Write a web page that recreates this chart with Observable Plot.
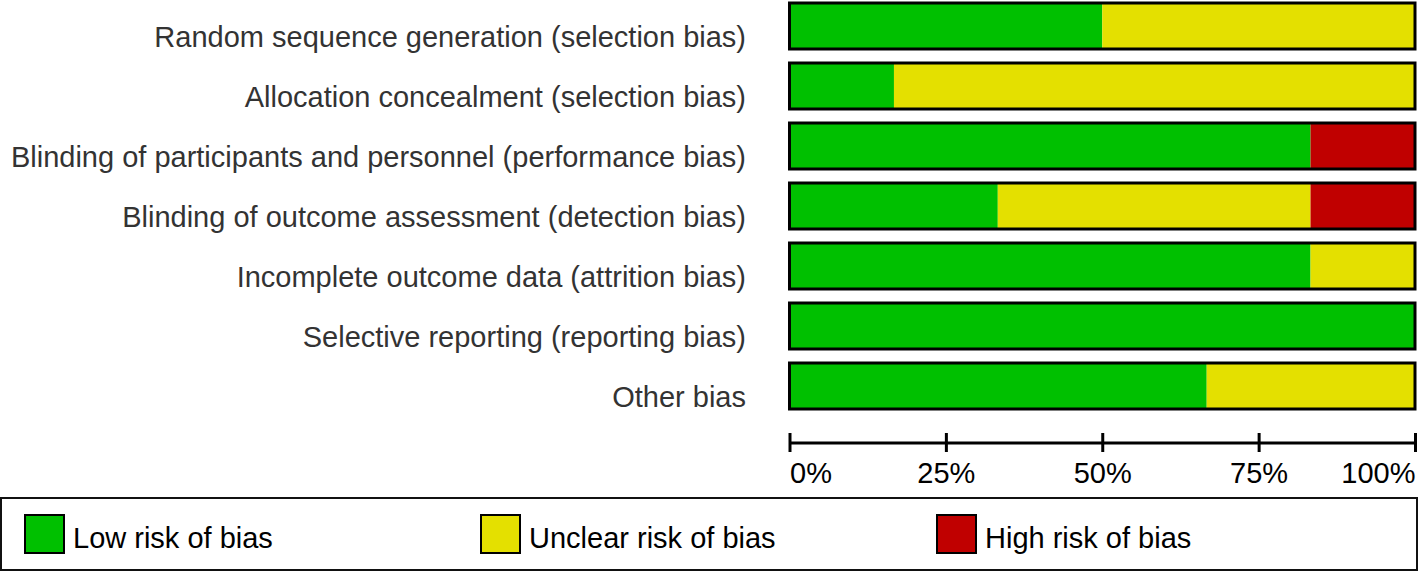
<!DOCTYPE html>
<html>
<head>
<meta charset="utf-8">
<script src="https://cdn.jsdelivr.net/npm/d3@7"></script>
<script src="https://cdn.jsdelivr.net/npm/@observablehq/plot@0.6"></script>
<style>
  html, body { margin: 0; padding: 0; background: #fff; }
  body { width: 1420px; height: 573px; overflow: hidden; font-family: "Liberation Sans", Arial, sans-serif; }
  #chart svg, #axis svg { display: block; }
  #legend {
    box-sizing: border-box;
    margin-top: 7px;
    width: 1418px;
    height: 74px;
    border: 2px solid #111;
    display: flex;
    align-items: center;
    padding-left: 22px;
  }
  .item { display: flex; align-items: center; width: 456px; font-size: 29px; color: #000; }
  .item span { position: relative; top: 4px; }
  .sw { box-sizing: border-box; width: 41px; height: 40px; border: 2px solid #000; margin-right: 8px; }
</style>
</head>
<body>
<div id="chart"></div>
<div id="axis"></div>
<div id="legend"></div>
<script>
const domains = [
  "Random sequence generation (selection bias)",
  "Allocation concealment (selection bias)",
  "Blinding of participants and personnel (performance bias)",
  "Blinding of outcome assessment (detection bias)",
  "Incomplete outcome data (attrition bias)",
  "Selective reporting (reporting bias)",
  "Other bias"
];
const lowRisk     = [50, 16.7, 83.3, 33.3, 83.3, 100, 66.7];
const unclearRisk = [50, 83.3, 0,    50,   16.7, 0,   33.3];
const highRisk    = [0,  0,    16.7, 16.7, 0,    0,   0];
const riskLabels = ["Low risk of bias", "Unclear risk of bias", "High risk of bias"];
const riskColors = ["#00c000", "#e4e000", "#c00000"];
const tickValues = [0, 25, 50, 75, 100];
const tickLabels = ["0%", "25%", "50%", "75%", "100%"];

const series = [lowRisk, unclearRisk, highRisk];
const table = [];
domains.forEach((d, i) => {
  series.forEach((s, j) => table.push({domain: d, risk: riskLabels[j], value: s[i]}));
});
const totals = domains.map((d, i) => ({domain: d, total: lowRisk[i] + unclearRisk[i] + highRisk[i]}));
const ticks = tickValues.map((v, i) => ({v, label: tickLabels[i]}));

const font = "'Liberation Sans', Arial, sans-serif";

const chart = Plot.plot({
  width: 1420,
  height: 415,
  marginLeft: 789.5,
  marginRight: 5,
  marginTop: 1,
  marginBottom: 5,
  style: {fontFamily: font, background: "#fff"},
  x: {domain: [0, 100], axis: null},
  y: {domain: domains, paddingInner: 0.24, paddingOuter: 0, axis: null},
  color: {domain: riskLabels, range: riskColors},
  marks: [
    Plot.barX(table, Plot.stackX({y: "domain", x: "value", fill: "risk", order: riskLabels})),
    Plot.barX(totals, {y: "domain", x1: 0, x2: "total", fill: "none", stroke: "#000", strokeWidth: 3}),
    Plot.axisY({label: null, tickSize: 0, tickPadding: 44, fontSize: 29, fill: "#333", textAnchor: "end", dy: 11})
  ]
});
document.getElementById("chart").appendChild(chart);

const axis = Plot.plot({
  width: 1420,
  height: 75,
  marginLeft: 789.5,
  marginRight: 5,
  marginTop: 18,
  marginBottom: 38,
  style: {fontFamily: font, background: "#fff"},
  x: {domain: [0, 100], axis: null},
  y: {domain: [-1, 1], axis: null},
  marks: [
    Plot.ruleY([0], {x1: 0, x2: 100, stroke: "#000", strokeWidth: 3}),
    Plot.tickX(tickValues, {x: d => d, stroke: "#000", strokeWidth: 3}),
    Plot.text(ticks.slice(0, 1), {x: "v", text: "label", frameAnchor: "bottom", lineAnchor: "top", dy: 10, textAnchor: "start", fontSize: 29, fill: "#000"}),
    Plot.text(ticks.slice(1, -1), {x: "v", text: "label", frameAnchor: "bottom", lineAnchor: "top", dy: 10, textAnchor: "middle", fontSize: 29, fill: "#000"}),
    Plot.text(ticks.slice(-1), {x: "v", text: "label", frameAnchor: "bottom", lineAnchor: "top", dy: 10, textAnchor: "end", fontSize: 29, fill: "#000"})
  ]
});
document.getElementById("axis").appendChild(axis);

const legend = document.getElementById("legend");
riskLabels.forEach((lab, i) => {
  const it = document.createElement("div");
  it.className = "item";
  const sw = document.createElement("div");
  sw.className = "sw";
  sw.style.background = riskColors[i];
  const tx = document.createElement("span");
  tx.textContent = lab;
  it.appendChild(sw);
  it.appendChild(tx);
  legend.appendChild(it);
});
</script>
</body>
</html>
